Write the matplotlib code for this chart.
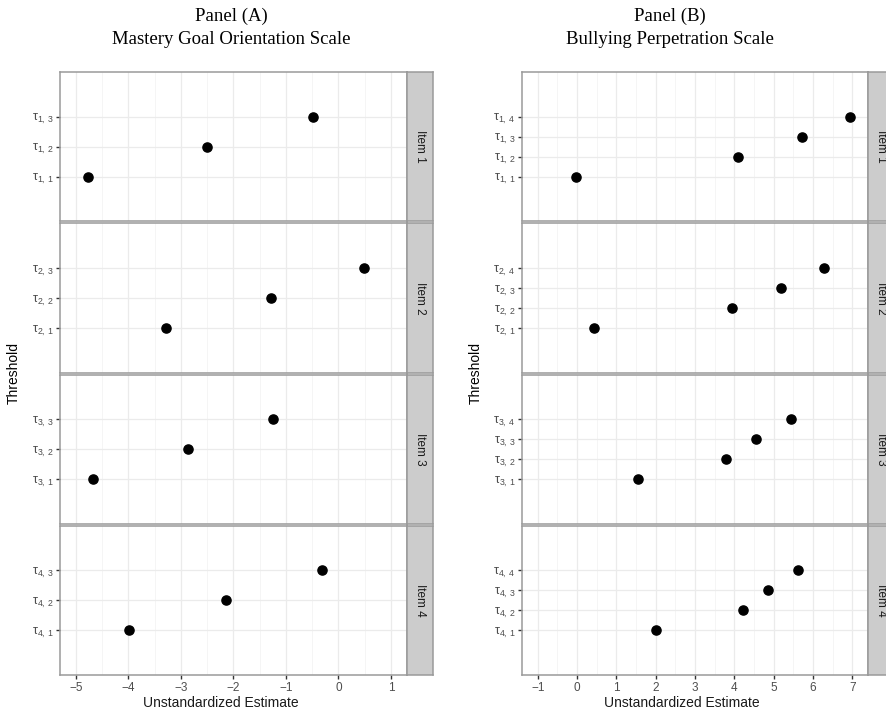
import matplotlib
matplotlib.use("Agg")
import matplotlib.pyplot as plt

plt.rcParams['font.family'] = ['Liberation Sans', 'DejaVu Sans']
plt.rcParams['mathtext.fontset'] = 'custom'
plt.rcParams['mathtext.rm'] = 'Liberation Sans'
plt.rcParams['mathtext.it'] = 'Liberation Sans:italic'

# data
items = ["Item 1", "Item 2", "Item 3", "Item 4"]

mastery_estimates = [
    [-4.76, -2.51, -0.49],
    [-3.29, -1.29, 0.49],
    [-4.67, -2.87, -1.25],
    [-3.99, -2.14, -0.32],
]
bullying_estimates = [
    [-0.03, 4.10, 5.73, 6.93],
    [0.43, 3.94, 5.20, 6.27],
    [1.56, 3.78, 4.56, 5.44],
    [2.00, 4.21, 4.86, 5.62],
]
mastery_xticks = [-5, -4, -3, -2, -1, 0, 1]
bullying_xticks = [-1, 0, 1, 2, 3, 4, 5, 6, 7]
titles = ["Panel (A)\nMastery Goal Orientation Scale",
          "Panel (B)\nBullying Perpetration Scale"]

W, H = 887, 712
BORDER = '#9A9A9A'
STRIP = '#CCCCCC'


def px_box(x0, y0, w, h):
    # pixel box (top-left origin) -> figure fraction
    return [x0 / W, 1 - (y0 + h) / H, w / W, h / H]


def draw_panel(fig, left, width, estimates, xticks, title, title_x, ylab_x, xlab_x):
    top, bottom, gap = 72, 675, 2
    fh = (bottom - top - 3 * gap) / 4
    span = xticks[-1] - xticks[0]
    minor = [(a + b) / 2 for a, b in zip(xticks[:-1], xticks[1:])]
    for i, vals in enumerate(estimates):
        y0 = top + i * (fh + gap)
        ax = fig.add_axes(px_box(left, y0, width, fh))
        n = len(vals)
        ypos = list(range(1, n + 1))
        ax.plot(vals, ypos, 'o', color='black', markersize=6.6, zorder=3)
        ax.set_xlim(xticks[0] - 0.05 * span, xticks[-1] + 0.05 * span)
        ax.set_ylim(1 - 0.744 * (n - 1), n + 0.744 * (n - 1))
        ax.set_xticks(xticks)
        ax.set_xticks(minor, minor=True)
        ax.set_yticks(ypos)
        ax.set_yticklabels([r'τ$_{%d,\,%d}$' % (i + 1, k) for k in ypos])
        ax.grid(True, which='major', color='#EBEBEB', linewidth=0.9, zorder=0)
        ax.grid(True, which='minor', axis='x', color='#F4F4F4', linewidth=0.6, zorder=0)
        ax.set_axisbelow(True)
        ax.tick_params(which='minor', length=0)
        ax.tick_params(which='major', length=3, width=1, color='#333333',
                       labelsize=8.5, labelcolor='#4D4D4D', pad=2)
        ax.tick_params(axis='y', labelsize=9)
        if i < 3:
            ax.tick_params(axis='x', which='major', length=0, labelbottom=False)
        for s in ax.spines.values():
            s.set_color(BORDER)
            s.set_linewidth(1.1)

        sax = fig.add_axes(px_box(left + width, y0, 26.5, fh))
        sax.set_facecolor(STRIP)
        sax.set_xticks([])
        sax.set_yticks([])
        for s in sax.spines.values():
            s.set_color(BORDER)
            s.set_linewidth(1.1)
        sax.text(0.5, 0.5, items[i], rotation=270, ha='center', va='center',
                 fontsize=8.5, color='#1A1A1A', transform=sax.transAxes)

    fig.text(title_x / W, 1 - 8 / H, title, ha='center', va='top',
             family='Liberation Serif', fontsize=13.5, linespacing=1.45)
    fig.text(ylab_x / W, 1 - 373 / H, 'Threshold', rotation=90,
             ha='center', va='center', fontsize=10)
    fig.text(xlab_x / W, 1 - 703 / H, 'Unstandardized Estimate',
             ha='center', va='center', fontsize=10, color='#1A1A1A')


fig = plt.figure(figsize=(W / 100, H / 100), dpi=100)
fig.patch.set_facecolor('white')
draw_panel(fig, 60, 346.7, mastery_estimates, mastery_xticks, titles[0], 231, 14, 221)
draw_panel(fig, 522, 346, bullying_estimates, bullying_xticks, titles[1], 670, 476, 682)
fig.savefig('out.png', dpi=100)
